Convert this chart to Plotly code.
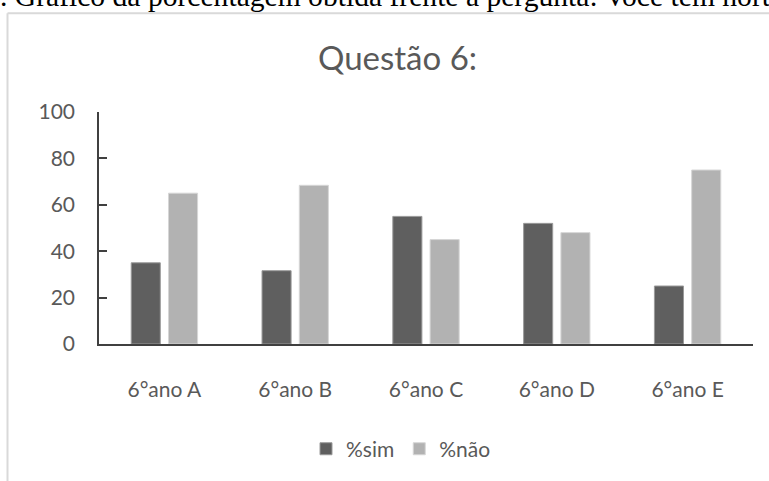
import plotly.graph_objects as go

# Respostas à questão 6, por turma (%)
turmas = ["6°ano A", "6°ano B", "6°ano C", "6°ano D", "6°ano E"]
pct_sim = [35, 31.6, 55, 52, 25]
pct_nao = [65, 68.4, 45, 48, 75]
y_ticks = [0, 20, 40, 60, 80, 100]

W, H = 769, 481
L, R, T, B = 99, 16, 112, 135
pw, ph = W - L - R, H - T - B


def px_x(px):
    return (px - L) / pw


def px_y(py):
    return (H - B - py) / ph


fig = go.Figure()
fig.add_trace(go.Bar(
    name="%sim", x=turmas, y=pct_sim,
    marker=dict(color="#5f5f5f", line=dict(color="#9a9a9a", width=1)),
))
fig.add_trace(go.Bar(
    name="%não", x=turmas, y=pct_nao,
    marker=dict(color="#b2b2b2", line=dict(color="#d6d6d6", width=1)),
))

gray = "#595959"
fig.update_layout(
    width=W, height=H,
    margin=dict(l=L, r=R, t=T, b=B),
    paper_bgcolor="white", plot_bgcolor="white",
    barmode="group", bargap=0.43, bargroupgap=0.22,
    font=dict(family="Lato", color=gray),
    showlegend=True,
    legend=dict(
        orientation="h", x=px_x(401), xanchor="center",
        y=px_y(452), yanchor="middle",
        font=dict(family="Lato", size=21, color=gray),
        itemwidth=30,
    ),
    xaxis=dict(
        showline=True, linecolor="#404040", linewidth=1.5,
        showgrid=False, ticks="", zeroline=False,
        tickfont=dict(family="Lato", size=21, color=gray),
        ticklabelstandoff=26,
    ),
    yaxis=dict(
        range=[0, 100], tickvals=y_ticks,
        showline=True, linecolor="#404040", linewidth=1.5,
        ticks="inside", ticklen=8, tickcolor="#404040", tickwidth=1.5,
        showgrid=False, zeroline=False,
        tickfont=dict(family="Lato", size=21, color=gray),
        ticklabelstandoff=18,
    ),
    annotations=[
        dict(
            text="Questão 6:", xref="paper", yref="paper",
            x=px_x(397), y=px_y(57), xanchor="center", yanchor="middle",
            showarrow=False, font=dict(family="Lato", size=33, color=gray),
        ),
        dict(
            text=". Gráfico da porcentagem obtida frente à pergunta: Você tem horta",
            xref="paper", yref="paper",
            x=px_x(-2), y=px_y(9.5), xanchor="left", yanchor="bottom",
            yshift=-4, showarrow=False,
            font=dict(family="Liberation Serif", size=29.6, color="black"),
        ),
    ],
    shapes=[
        dict(type="line", xref="paper", yref="paper",
             x0=px_x(7.5), x1=px_x(790), y0=px_y(12.5), y1=px_y(12.5),
             line=dict(color="#d9d9d9", width=2)),
        dict(type="line", xref="paper", yref="paper",
             x0=px_x(7.5), x1=px_x(7.5), y0=px_y(12.5), y1=px_y(500),
             line=dict(color="#d9d9d9", width=2)),
    ],
)

fig.write_html("out.html")
